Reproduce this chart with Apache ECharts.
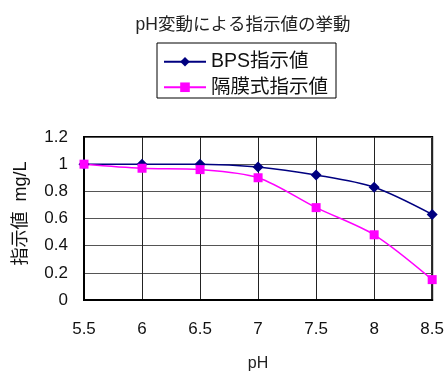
<!DOCTYPE html>
<html><head><meta charset="utf-8">
<script src="https://cdn.jsdelivr.net/npm/echarts@6/dist/echarts.min.js"></script>
<style>html,body{margin:0;padding:0;background:#fff}#c{width:447px;height:373px}</style>
</head><body><div id="c"></div>
<script>
const phValues = [5.5, 6, 6.5, 7, 7.5, 8, 8.5];
const bpsValues = [1.0, 1.0, 1.0, 0.98, 0.92, 0.83, 0.63];
const membraneValues = [1.0, 0.97, 0.96, 0.9, 0.68, 0.48, 0.15];
const seriesNames = ['BPS指示値', '隔膜式指示値'];
const titleText = 'pH変動による指示値の挙動';
const xName = 'pH';
const yName = '指示値  mg/L';

const font = '"Liberation Sans", "Noto Sans CJK JP", sans-serif';
const chart = echarts.init(document.getElementById('c'));
chart.setOption({
  animation: false,
  backgroundColor: '#fff',
  textStyle: { fontFamily: font },
  title: { text: titleText, left: 238, textAlign: 'center', top: 11,
    textStyle: { fontFamily: font, fontSize: 17.5, fontWeight: 'normal', color: '#222' } },
  legend: {
    left: 157, top: 43, orient: 'vertical',
    borderColor: '#000', borderWidth: 1, borderRadius: 0,
    padding: [9, 8, 1, 6], itemWidth: 42, itemHeight: 12, itemGap: 6,
    textStyle: { fontFamily: font, fontSize: 19.5, color: '#111' },
    data: seriesNames
  },
  grid: { left: 84, right: 13, top: 137, bottom: 71, containLabel: false,
    show: true, borderColor: '#000', borderWidth: 2, backgroundColor: 'transparent' },
  xAxis: {
    type: 'value', min: 5.5, max: 8.5, interval: 0.5,
    name: xName, nameLocation: 'middle', nameGap: 56,
    nameTextStyle: { fontFamily: font, fontSize: 16, color: '#222' },
    axisLine: { show: true, onZero: false, lineStyle: { color: '#000', width: 2 } },
    axisTick: { show: false },
    axisLabel: { margin: 21, fontSize: 17, color: '#111', fontFamily: font },
    splitLine: { show: true, lineStyle: { color: '#222', width: 1 } }
  },
  yAxis: {
    type: 'value', min: 0, max: 1.2, interval: 0.2,
    name: yName, nameLocation: 'middle', nameGap: 54,
    nameTextStyle: { fontFamily: font, fontSize: 18, color: '#111', padding: [0, 0, 0, 10] },
    axisLine: { show: true, lineStyle: { color: '#000', width: 2 } },
    axisTick: { show: false },
    axisLabel: { margin: 16, fontSize: 17, color: '#111', fontFamily: font },
    splitLine: { show: true, lineStyle: { color: '#555', width: 1 } }
  },
  series: [
    { name: seriesNames[0], type: 'line', smooth: 0.3,
      data: phValues.map((x, i) => [x, bpsValues[i]]),
      symbol: 'diamond', symbolSize: 11,
      itemStyle: { color: '#000080' }, lineStyle: { color: '#000080', width: 1.5 } },
    { name: seriesNames[1], type: 'line', smooth: 0.3,
      data: phValues.map((x, i) => [x, membraneValues[i]]),
      symbol: 'rect', symbolSize: 9,
      itemStyle: { color: '#ff00ff' }, lineStyle: { color: '#ff00ff', width: 1.5 } }
  ]
});
</script></body></html>
